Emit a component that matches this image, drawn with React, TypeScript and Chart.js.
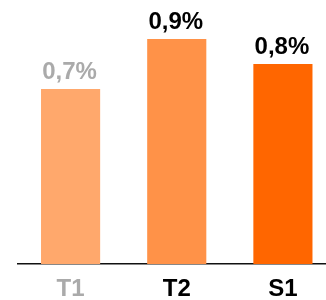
import React, { useEffect, useRef } from "react";
import { Chart, registerables } from "chart.js";

Chart.register(...registerables);

const categories = ["T1", "T2", "S1"];
const values = [0.7, 0.9, 0.8];
const valueLabels = ["0,7%", "0,9%", "0,8%"];
const barColors = ["#FFA86C", "#FF9248", "#FF6600"];
const textColors = ["#AAAAAA", "#000000", "#000000"];

const FONT = "'Liberation Sans', Arial, Helvetica, sans-serif";

const valueLabelPlugin = {
  id: "valueLabels",
  afterDatasetsDraw(chart: any) {
    const ctx = chart.ctx;
    const meta = chart.getDatasetMeta(0);
    ctx.save();
    ctx.font = `bold 24px ${FONT}`;
    ctx.textAlign = "center";
    ctx.textBaseline = "alphabetic";
    meta.data.forEach((bar: any, i: number) => {
      ctx.fillStyle = textColors[i];
      ctx.fillText(valueLabels[i], bar.x - 1, bar.y - 10.5);
    });
    ctx.restore();
  },
};

export default function App() {
  const ref = useRef<HTMLCanvasElement>(null);
  useEffect(() => {
    if (!ref.current) return;
    const chart = new Chart(ref.current, {
      type: "bar",
      data: {
        labels: categories,
        datasets: [
          {
            data: values,
            backgroundColor: barColors,
            borderWidth: 0,
            categoryPercentage: 1,
            barPercentage: 0.557,
          },
        ],
      },
      options: {
        responsive: false,
        animation: false,
        layout: { padding: { left: 17.5, right: 0, top: 14, bottom: 0 } },
        plugins: {
          legend: { display: false },
          tooltip: { enabled: false },
        },
        scales: {
          x: {
            grid: { display: true, drawOnChartArea: false, drawTicks: false },
            border: { display: true, color: "#111111", width: 1.5 },
            ticks: {
              padding: 11,
              color: (c: any) => textColors[c.index] || "#000",
              font: { family: FONT, size: 24, weight: "bold" },
            },
            afterFit: (scale: any) => {
              scale.height = 36;
            },
          },
          y: {
            display: false,
            min: 0,
            max: 1.0,
          },
        },
      },
      plugins: [valueLabelPlugin],
    });
    return () => chart.destroy();
  }, []);
  return (
    <div
      style={{
        position: "absolute",
        left: 0,
        top: 0,
        width: 326,
        height: 300,
        overflow: "hidden",
        background: "#fff",
      }}
    >
      <canvas ref={ref} width={336} height={300} style={{ display: "block" }} />
    </div>
  );
}
